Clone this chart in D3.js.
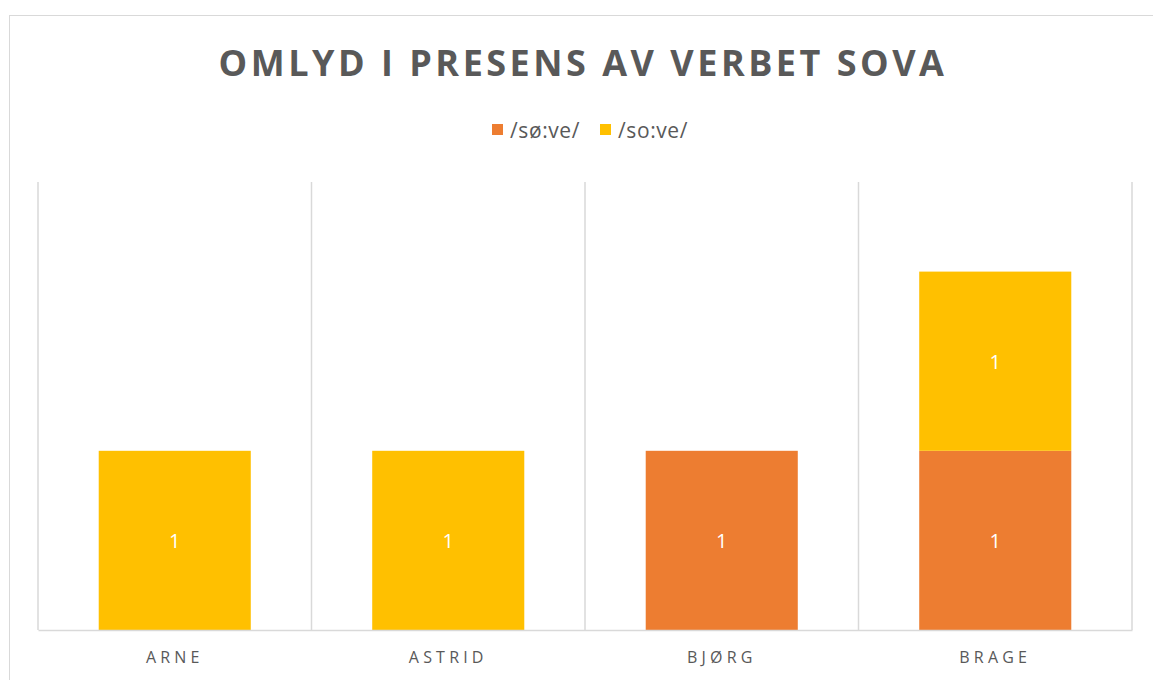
<!DOCTYPE html>
<html><head><meta charset="utf-8">
<script src="https://cdn.jsdelivr.net/npm/d3@7"></script>
<style>body{margin:0;background:#fff;}svg{display:block;}</style>
</head><body>
<svg id="c" width="1153" height="680"></svg>
<script>
const categories = ["ARNE", "ASTRID", "BJØRG", "BRAGE"];
const seriesNames = ["/sø:ve/", "/so:ve/"];
const soeve = [0, 0, 1, 1];
const soove = [1, 1, 0, 1];
const colors = ["#ED7D31", "#FFC000"];
const title = "OMLYD I PRESENS AV VERBET SOVA";

const svg = d3.select("#c");
const W = 1153, H = 680;
const font = "'Open Sans', 'Liberation Sans', sans-serif";
const textColor = "#595959";

// chart frame
svg.append("rect").attr("x", 9.5).attr("y", 15.5).attr("width", W + 10).attr("height", H + 10)
  .attr("fill", "#fff").attr("stroke", "#D9D9D9").attr("stroke-width", 1);

const plot = {left: 38, right: 1132, top: 182, bottom: 630};
const x = d3.scaleBand().domain(categories).range([plot.left, plot.right]).paddingInner(0).paddingOuter(0);
const y = d3.scaleLinear().domain([0, 2.5]).range([plot.bottom, plot.top]);

// vertical gridlines at category boundaries
const bounds = categories.map(c => x(c)).concat([plot.right]);
svg.append("g").selectAll("line").data(bounds).join("line")
  .attr("x1", d => d).attr("x2", d => d).attr("y1", plot.top).attr("y2", plot.bottom)
  .attr("stroke", "#D9D9D9").attr("stroke-width", 1.5);

// stacked data
const table = categories.map((c, i) => ({cat: c, [seriesNames[0]]: soeve[i], [seriesNames[1]]: soove[i]}));
const stack = d3.stack().keys(seriesNames)(table);
const barW = x.bandwidth() * 0.556;

stack.forEach((layer, li) => {
  const g = svg.append("g");
  layer.forEach(d => {
    const v = d[1] - d[0];
    if (v <= 0) return;
    const cx = x(d.data.cat) + x.bandwidth() / 2;
    g.append("rect").attr("x", cx - barW / 2).attr("y", y(d[1]))
      .attr("width", barW).attr("height", y(d[0]) - y(d[1])).attr("fill", colors[li]);
    g.append("text").attr("x", cx).attr("y", (y(d[0]) + y(d[1])) / 2)
      .attr("text-anchor", "middle").attr("dominant-baseline", "central")
      .attr("font-family", font).attr("font-size", 20).attr("fill", "#fff").text(v);
  });
});

// baseline axis
const xAxis = d3.axisBottom(x).tickSize(0).tickPadding(0);
const ax = svg.append("g").attr("transform", `translate(0,${plot.bottom})`).call(xAxis);
ax.select(".domain").attr("stroke", "#D9D9D9").attr("stroke-width", 1.5);
ax.selectAll("text").attr("font-family", font).attr("font-size", 16).attr("fill", textColor)
  .attr("letter-spacing", "4.2px").attr("dy", null).attr("y", 33);

// title
svg.append("text").attr("x", 583).attr("y", 76).attr("text-anchor", "middle")
  .attr("font-family", font).attr("font-weight", "bold").attr("font-size", 36)
  .attr("letter-spacing", "3.5px").attr("fill", textColor).text(title);

// legend
const legX = [492, 600];
seriesNames.forEach((s, i) => {
  svg.append("rect").attr("x", legX[i]).attr("y", 124).attr("width", 11).attr("height", 11).attr("fill", colors[i]);
  svg.append("text").attr("x", legX[i] + 18).attr("y", 138).attr("font-family", font)
    .attr("font-size", 21).attr("letter-spacing", "0.6px").attr("fill", textColor).text(s);
});
</script>
</body></html>
